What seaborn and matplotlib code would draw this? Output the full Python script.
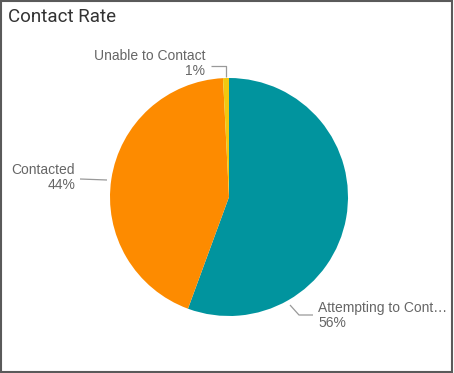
import matplotlib
matplotlib.use("Agg")
import matplotlib.pyplot as plt
import seaborn as sns
from matplotlib.patches import Rectangle

# data
labels = ["Attempting to Cont\u2026", "Contacted", "Unable to Contact"]
values = [55.6, 43.6, 0.8]
pct_text = ["56%", "44%", "1%"]
colors = ["#01949E", "#FD8B00", "#F2C80F"]

sns.set_theme(style="white")
plt.rcParams["font.family"] = ["Liberation Sans", "DejaVu Sans"]

W, H = 454, 373
fig = plt.figure(figsize=(W / 100, H / 100), dpi=100)
ax = fig.add_axes([0, 0, 1, 1])

cx, cy, r = 229, H - 197, 119
ax.pie(values, colors=colors, startangle=90, counterclock=False,
       center=(cx, cy), radius=r, frame=True,
       wedgeprops=dict(linewidth=0))
ax.set_xlim(0, W)
ax.set_ylim(0, H)
ax.set_aspect("equal")
ax.axis("off")

lc = "#999999"
tc = "#666666"
fs = 10

# leader lines (pixel coords, y from top)
def line(pts):
    xs = [p[0] for p in pts]
    ys = [H - p[1] for p in pts]
    ax.plot(xs, ys, color=lc, lw=0.9, solid_capstyle="butt")

line([(290, 305), (299, 315), (313, 315)])
line([(80, 179), (107, 180)])
line([(211, 66), (226, 66), (226, 77)])

ax.text(318, H - 308, labels[0], ha="left", va="center", color=tc, fontsize=fs)
ax.text(318, H - 323, pct_text[0], ha="left", va="center", color=tc, fontsize=fs)
ax.text(75, H - 170, labels[1], ha="right", va="center", color=tc, fontsize=fs)
ax.text(75, H - 185, pct_text[1], ha="right", va="center", color=tc, fontsize=fs)
ax.text(205, H - 56, labels[2], ha="right", va="center", color=tc, fontsize=fs)
ax.text(205, H - 71, pct_text[2], ha="right", va="center", color=tc, fontsize=fs)

ax.text(8, H - 17, "Contact Rate", ha="left", va="center", color="#333333",
        fontsize=13.5, family=["Roboto", "DejaVu Sans"])

fig.patches.append(Rectangle((0.002, 0.003), 0.994, 0.994, transform=fig.transFigure,
                             fill=False, edgecolor="#5a5a5a", linewidth=1.5))

fig.savefig("out.png", dpi=100)
